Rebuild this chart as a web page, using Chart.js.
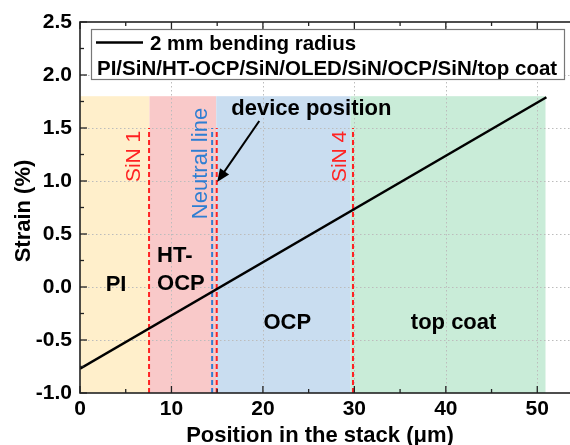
<!DOCTYPE html>
<html><head><meta charset="utf-8">
<script src="https://cdn.jsdelivr.net/npm/chart.js@4.4.0/dist/chart.umd.min.js"></script>
<style>
html,body{margin:0;padding:0;overflow:hidden;background:#fff;width:570px;height:445px}
#wrap{position:relative;width:600px;height:445px}
</style>
</head><body>
<div id="wrap"><canvas id="c" width="600" height="445"></canvas></div>
<script>
// ---- data ----
const positionUm = [0, 51];
const strainPct = [-0.77, 1.79];
const seriesLabel = '2 mm bending radius';
const stackLabel = 'PI/SiN/HT-OCP/SiN/OLED/SiN/OCP/SiN/top coat';
const layerStart = [0, 7.6, 14.9, 29.6];
const layerEnd = [7.6, 14.9, 29.6, 50.9];
const layerTop = 1.8;
const layerBottom = -1.0;
const layerColors = ['#FFEFCB', '#F9C9C9', '#C9DDF0', '#C9ECD8'];
const sinLines = [7.55, 14.95, 29.85];
const neutralLines = [14.45];
const markerTop = 1.5;
const xTicks = [0, 10, 20, 30, 40, 50];
const xMinorTicks = [5, 15, 25, 35, 45];
const yTicks = [-1.0, -0.5, 0.0, 0.5, 1.0, 1.5, 2.0, 2.5];
const yMinorTicks = [-0.75, -0.25, 0.25, 0.75, 1.25, 1.75, 2.25];

const FONT = "'Liberation Sans', Arial, sans-serif";
const RED = '#FF2222';
const BLUE = '#2E7ED2';

const datasets = [{
  label: seriesLabel,
  data: positionUm.map((x, i) => ({x: x, y: strainPct[i]})),
  borderColor: '#000', borderWidth: 2.5, pointRadius: 0, showLine: true, order: 0
}];
sinLines.forEach(v => datasets.push({
  data: [{x: v, y: layerBottom}, {x: v, y: markerTop}],
  borderColor: RED, borderWidth: 2, borderDash: [5, 3], pointRadius: 0, showLine: true, order: 2
}));
neutralLines.forEach(v => datasets.push({
  data: [{x: v, y: layerBottom}, {x: v, y: markerTop}],
  borderColor: BLUE, borderWidth: 2, borderDash: [5, 3], pointRadius: 0, showLine: true, order: 1
}));

const deco = {
  id: 'deco',
  beforeDatasetsDraw(chart) {
    const {ctx, chartArea: a, scales: {x, y}} = chart;
    ctx.save();
    for (let i = 0; i < layerStart.length; i++) {
      const x0 = x.getPixelForValue(layerStart[i]), x1 = x.getPixelForValue(layerEnd[i]);
      const y0 = y.getPixelForValue(layerTop), y1 = y.getPixelForValue(layerBottom);
      ctx.fillStyle = layerColors[i];
      ctx.fillRect(x0, y0, x1 - x0, y1 - y0);
    }
    ctx.strokeStyle = '#bcbcbc'; ctx.lineWidth = 1; ctx.setLineDash([1.5, 2.5]);
    xTicks.slice(1).forEach(v => {
      const px = Math.round(x.getPixelForValue(v)) + 0.5;
      ctx.beginPath(); ctx.moveTo(px, a.top); ctx.lineTo(px, a.bottom); ctx.stroke();
    });
    yTicks.slice(1, -1).forEach(v => {
      const py = Math.round(y.getPixelForValue(v)) + 0.5;
      ctx.beginPath(); ctx.moveTo(a.left, py); ctx.lineTo(a.right, py); ctx.stroke();
    });
    ctx.restore();
  },
  afterDatasetsDraw(chart) {
    const {ctx, chartArea: a, scales: {x, y}} = chart;
    ctx.save();
    // box
    ctx.strokeStyle = '#222'; ctx.lineWidth = 1.6; ctx.setLineDash([]);
    ctx.strokeRect(a.left, a.top, a.right - a.left, a.bottom - a.top);
    // inward ticks
    ctx.lineWidth = 1.3;
    const tick = (x0, y0, x1, y1) => { ctx.beginPath(); ctx.moveTo(x0, y0); ctx.lineTo(x1, y1); ctx.stroke(); };
    xTicks.forEach(v => { const p = x.getPixelForValue(v); tick(p, a.bottom, p, a.bottom - 7); tick(p, a.top, p, a.top + 7); });
    xMinorTicks.forEach(v => { const p = x.getPixelForValue(v); tick(p, a.bottom, p, a.bottom - 4); tick(p, a.top, p, a.top + 4); });
    yTicks.forEach(v => { const p = y.getPixelForValue(v); tick(a.left, p, a.left + 7, p); });
    yMinorTicks.forEach(v => { const p = y.getPixelForValue(v); tick(a.left, p, a.left + 4, p); });

    // region labels
    ctx.fillStyle = '#000';
    ctx.font = 'bold 22px ' + FONT;
    ctx.textBaseline = 'alphabetic';
    ctx.textAlign = 'center';
    ctx.fillText('PI', x.getPixelForValue(3.94), y.getPixelForValue(-0.038));
    ctx.fillText('OCP', x.getPixelForValue(22.67), y.getPixelForValue(-0.396));
    ctx.fillText('top coat', x.getPixelForValue(40.85), y.getPixelForValue(-0.396));
    ctx.fillText('device position', x.getPixelForValue(25.3), y.getPixelForValue(1.623));
    ctx.textAlign = 'left';
    ctx.fillText('HT-', x.getPixelForValue(8.43), y.getPixelForValue(0.239));
    ctx.fillText('OCP', x.getPixelForValue(8.43), y.getPixelForValue(-0.028));

    // rotated labels
    const vtext = (t, vx, vy, color, size) => {
      ctx.save();
      ctx.translate(x.getPixelForValue(vx), y.getPixelForValue(vy));
      ctx.rotate(-Math.PI / 2);
      ctx.fillStyle = color; ctx.font = size + 'px ' + FONT;
      ctx.textAlign = 'left'; ctx.textBaseline = 'alphabetic';
      ctx.fillText(t, 0, 0);
      ctx.restore();
    };
    vtext('SiN 1', 6.57, 0.99, RED, 21);
    vtext('Neutral line', 13.9, 0.64, BLUE, 22);
    vtext('SiN 4', 29.13, 0.99, RED, 21);

    // arrow
    const tx = x.getPixelForValue(19.6), ty = y.getPixelForValue(1.566);
    const hx = x.getPixelForValue(15.0), hy = y.getPixelForValue(0.99);
    const ang = Math.atan2(hy - ty, hx - tx);
    ctx.strokeStyle = '#000'; ctx.lineWidth = 2;
    ctx.beginPath(); ctx.moveTo(tx, ty);
    ctx.lineTo(hx - 9 * Math.cos(ang), hy - 9 * Math.sin(ang)); ctx.stroke();
    ctx.fillStyle = '#000';
    ctx.beginPath(); ctx.moveTo(hx, hy);
    ctx.lineTo(hx - 13 * Math.cos(ang) + 5.5 * Math.sin(ang), hy - 13 * Math.sin(ang) - 5.5 * Math.cos(ang));
    ctx.lineTo(hx - 13 * Math.cos(ang) - 5.5 * Math.sin(ang), hy - 13 * Math.sin(ang) + 5.5 * Math.cos(ang));
    ctx.closePath(); ctx.fill();

    // legend
    ctx.fillStyle = '#fff';
    ctx.fillRect(91, 29, 474, 51);
    ctx.strokeStyle = '#777'; ctx.lineWidth = 1.2;
    ctx.strokeRect(91.5, 29.5, 473, 50);
    ctx.strokeStyle = '#000'; ctx.lineWidth = 2.5;
    ctx.beginPath(); ctx.moveTo(96, 42.5); ctx.lineTo(143, 42.5); ctx.stroke();
    ctx.fillStyle = '#000';
    ctx.font = 'bold 20.5px ' + FONT;
    ctx.textAlign = 'left'; ctx.textBaseline = 'alphabetic';
    ctx.fillText(seriesLabel, 150, 50);
    ctx.fillText(stackLabel, 97, 75);
    ctx.restore();
  },
  afterDraw(chart) {
    const {ctx} = chart;
    ctx.save();
    ctx.fillStyle = '#000';
    ctx.font = 'bold 22px ' + FONT;
    ctx.textAlign = 'center'; ctx.textBaseline = 'alphabetic';
    ctx.fillText('Position in the stack (\u03bcm)', 320, 442);
    ctx.translate(30, 211);
    ctx.rotate(-Math.PI / 2);
    ctx.fillText('Strain (%)', 0, 0);
    ctx.restore();
  }
};

new Chart(document.getElementById('c'), {
  type: 'scatter',
  data: {datasets: datasets},
  options: {
    responsive: false, animation: false, devicePixelRatio: 1,
    layout: {padding: {left: 0, right: 17, top: 22, bottom: 0}},
    plugins: {legend: {display: false}, tooltip: {enabled: false}},
    scales: {
      x: {
        type: 'linear', min: 0, max: 55,
        afterBuildTicks: s => { s.ticks = xTicks.map(v => ({value: v})); },
        afterFit: s => { s.height = 52; },
        grid: {display: false, drawTicks: false},
        border: {display: false},
        ticks: {color: '#000', font: {family: FONT, size: 21, weight: 'bold'}, padding: 4, maxRotation: 0}
      },
      y: {
        type: 'linear', min: -1, max: 2.5,
        afterBuildTicks: s => { s.ticks = yTicks.map(v => ({value: v})); },
        afterFit: s => { s.width = 80; },
        grid: {display: false, drawTicks: false},
        border: {display: false},
        ticks: {color: '#000', font: {family: FONT, size: 21, weight: 'bold'}, padding: 8,
          callback: v => Number(v).toFixed(1)}
      }
    }
  },
  plugins: [deco]
});
</script>
</body></html>
